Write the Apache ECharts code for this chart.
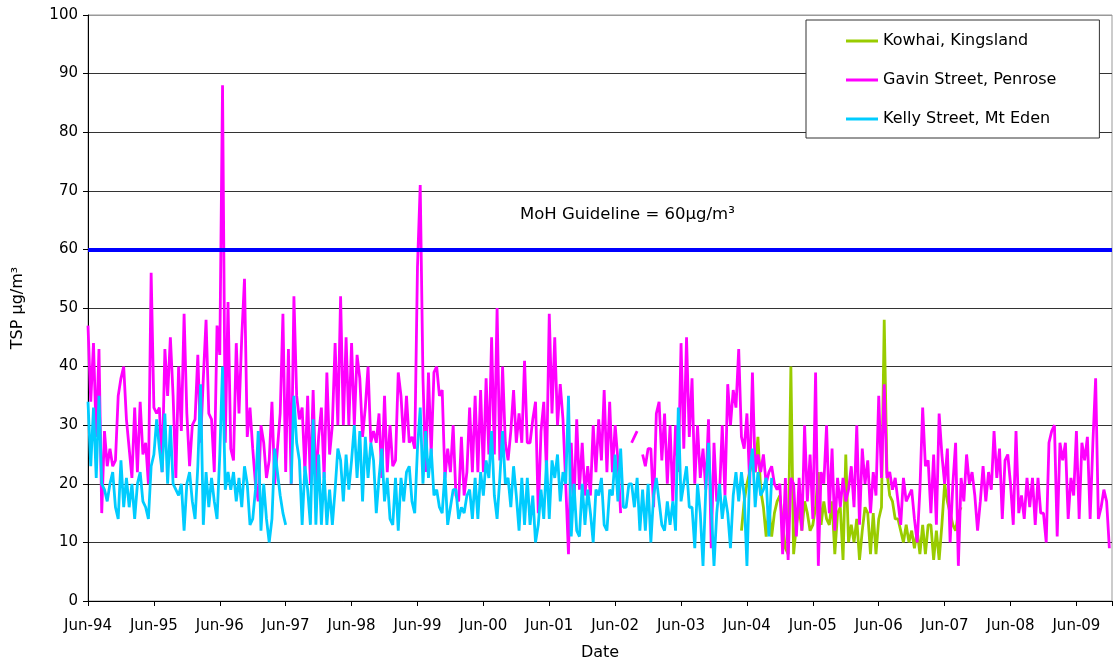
<!DOCTYPE html>
<html>
<head>
<meta charset="utf-8">
<title>TSP monitoring – Auckland sites</title>
<script src="https://cdn.jsdelivr.net/npm/echarts@6/dist/echarts.min.js"></script>
<style>
  html, body { margin: 0; padding: 0; background: #fff; }
  #chart { width: 1115px; height: 666px; }
</style>
</head>
<body>
<div id="chart"></div>
<script>
// Sampling: one TSP result every half month; x is measured in years from June 1994.
const SAMPLE_STEP_MONTHS = 0.5;
const AXIS_ORIGIN = { year: 1994, month: 6 };

const seriesNames = ['Kowhai, Kingsland', 'Gavin Street, Penrose', 'Kelly Street, Mt Eden'];
const seriesColors = ['#99cc00', '#ff00ff', '#00ccff'];

// Gavin Street, Penrose – from June 1994 (null = no sample)
const gavinStart = { year: 1994, month: 6 };
const gavinValues = [
  47, 34, 44, 28, 43, 15, 29, 23, 26, 23, 24, 35, 38, 40, 31, 26, 21, 33, 22, 34, 25, 27,
  20, 56, 33, 32, 33, 22, 43, 35, 45, 35, 21, 40, 29, 49, 32, 23, 30, 31, 42, 27, 38,
  48, 32, 31, 22, 47, 42, 88, 27, 51, 26, 24, 44, 32, 45, 55, 28, 33, 26, 20, 17, 30,
  27, 21, 24, 34, 20, 26, 32, 49, 22, 43, 20, 52, 35, 31, 33, 22, 35, 20, 36, 20, 28,
  33, 21, 39, 25, 30, 44, 30, 52, 30, 45, 30, 44, 30, 42, 38, 28, 33, 40, 27, 29, 27,
  32, 21, 35, 22, 30, 23, 24, 39, 35, 27, 35, 27, 28, 26, 57, 71, 38, 22, 39, 25, 39,
  40, 35, 36, 21, 26, 22, 30, 18, 17, 28, 18, 22, 33, 22, 35, 22, 36, 22, 38, 25, 45,
  25, 50, 24, 40, 27, 24, 29, 36, 27, 32, 27, 41, 27, 27, 31, 34, 15, 29, 34, 22, 49,
  32, 45, 30, 37, 31, 20, 8, 27, 16, 31, 19, 27, 18, 23, 18, 30, 22, 31, 24, 36, 22,
  34, 22, 30, 24, 15, null, null, null, 27, 28, 29, null, 25, 23, 26, 26, 16, 32, 34, 24, 32,
  20, 30, 17, 30, 22, 44, 26, 45, 28, 38, 20, 30, 21, 26, 19, 31, 9, 27, 17, 18, 30,
  18, 37, 30, 36, 33, 43, 28, 26, 32, 20, 39, 22, 25, 22, 25, 20, 22, 23, 20, 19, 20,
  8, 21, 7, 21, 20, 11, 21, 12, 30, 17, 25, 14, 39, 6, 22, 20, 30, 15, 26, 12, 21,
  16, 21, 17, 19, 23, 16, 30, 13, 26, 20, 24, 15, 22, 18, 35, 21, 37, 21, 22, 19, 21,
  17, 13, 21, 17, 18, 19, 14, 10, 19, 33, 23, 24, 15, 25, 13, 32, 25, 20, 26, 10, 20,
  27, 6, 21, 17, 25, 20, 22, 18, 12, 17, 23, 17, 22, 19, 29, 21, 26, 14, 24, 25, 20,
  13, 29, 15, 18, 14, 21, 16, 21, 13, 21, 15, 15, 10, 27, 29, 30, 11, 27,
  24, 27, 14, 21, 18, 29, 14, 27, 24, 28, 14, 27, 38, 14, 16, 19, 17, 9
];

// Kelly Street, Mt Eden – June 1994 to late 2004
const kellyStart = { year: 1994, month: 6 };
const kellyValues = [
  34, 23, 33, 21, 35, 20, 19, 17, 20, 22, 16, 14, 24, 16, 21, 16, 20, 14, 20, 22, 17, 16,
  14, 23, 25, 31, 26, 22, 32, 20, 30, 20, 19, 18, 20, 12, 20, 22, 17, 14, 23, 37, 13,
  22, 16, 21, 17, 14, 25, 40, 19, 22, 19, 22, 17, 21, 16, 23, 20, 13, 14, 19, 29, 12,
  20, 14, 10, 14, 26, 22, 18, 15, 13, null, 20, 35, 27, 24, 13, 23, 19, 13, 31, 13, 25,
  13, 22, 13, 19, 13, 19, 26, 24, 17, 25, 19, 24, 30, 21, 29, 17, 28, 21, 27, 24, 15,
  21, 26, 17, 21, 14, 13, 21, 12, 21, 17, 22, 23, 17, 15, 26, 33, 20, 29, 21, 26, 18,
  19, 16, 15, 22, 13, 16, 19, 19, 14, 16, 15, 18, 19, 14, 21, 14, 22, 18, 24, 21, 29,
  18, 14, 21, 29, 20, 21, 16, 23, 18, 12, 21, 13, 21, 13, 18, 10, 13, 19, 14, 24, 14,
  24, 21, 25, 17, 22, 20, 35, 11, 20, 12, 11, 20, 13, 19, 15, 10, 19, 18, 21, 13, 12,
  19, 18, 25, 17, 26, 16, 16, 20, 20, 16, 21, 12, 19, 12, 20, 10, 18, 21, 17, 13, 12,
  17, 13, 17, 12, 33, 17, 20, 23, 16, 16, 9, 20, 15, 6, 19, 27, 16, 6, 15, 20,
  14, 18, 15, 9, 18, 22, 17, 22, 18, 6, 22, 26, 16, 22, 18, 19, 21, 11, 21
];

// Kowhai, Kingsland – May 2004 to late 2007
const kowhaiStart = { year: 2004, month: 5 };
const kowhaiValues = [
  12, 17, 20, 22, 24, 22, 28, 19, 16, 11, 16, 11, 15, 17, 18,
  13, 9, 8, 40, 8, 13, 16, 12, 17, 15, 12, 13, 16, 22, 13, 17, 14, 13, 17, 8, 15,
  16, 7, 25, 10, 13, 10, 14, 7, 12, 16, 15, 8, 15, 8, 14, 16, 48, 22, 18, 17, 14,
  14, 12, 10, 13, 10, 12, 9, 12, 8, 13, 8, 13, 13, 7, 12, 7, 13, 20, 17, 15, 13, 12, 15, 16
];

// Ministry of Health guideline
const guidelineValue = 60;
const guidelineText = 'MoH Guideline = 60µg/m³';

// Tick labels along the date axis (one per June)
const dateTickLabels = ['Jun-94', 'Jun-95', 'Jun-96', 'Jun-97', 'Jun-98', 'Jun-99', 'Jun-00', 'Jun-01',
  'Jun-02', 'Jun-03', 'Jun-04', 'Jun-05', 'Jun-06', 'Jun-07', 'Jun-08', 'Jun-09'];

function toPoints(values, start) {
  const base = (start.year - AXIS_ORIGIN.year) * 12 + (start.month - AXIS_ORIGIN.month);
  return values.map((v, i) => [(base + i * SAMPLE_STEP_MONTHS) / 12, v === null ? '-' : v]);
}

const FONT = 'DejaVu Sans';
const chart = echarts.init(document.getElementById('chart'), null, { renderer: 'canvas' });

const lineSeries = (name, color, data, extra) => Object.assign({
  name,
  type: 'line',
  data,
  showSymbol: false,
  symbol: 'none',
  connectNulls: false,
  color,
  lineStyle: { color, width: 2.8 },
  emphasis: { disabled: true },
  animation: false
}, extra || {});

const splitColors = Array.from({ length: 11 }, (_, i) => (i === 10 ? '#999' : '#333'));

chart.setOption({
  backgroundColor: '#fff',
  animation: false,
  grid: {
    left: 88, right: 3, top: 15, bottom: 65,
    show: true, borderColor: '#999', borderWidth: 1, backgroundColor: '#fff'
  },
  legend: {
    data: seriesNames,
    orient: 'vertical',
    left: 806, top: 20,
    icon: 'rect',
    itemWidth: 32, itemHeight: 3, itemGap: 23,
    padding: [13, 43, 11, 40],
    backgroundColor: '#fff',
    borderColor: '#333', borderWidth: 1,
    textStyle: { fontFamily: FONT, fontSize: 16, color: '#000' },
    selectedMode: false
  },
  xAxis: {
    type: 'value',
    min: 0, max: 15.54, interval: 1,
    name: 'Date',
    nameLocation: 'middle',
    nameGap: 44,
    nameTextStyle: { fontFamily: FONT, fontSize: 16, color: '#000' },
    axisLine: { show: true, lineStyle: { color: '#000', width: 1 } },
    axisTick: { show: true, length: 5, lineStyle: { color: '#000' } },
    axisLabel: {
      margin: 18,
      fontFamily: FONT, fontSize: 15, color: '#000',
      formatter: v => (Number.isInteger(v) && dateTickLabels[v]) ? dateTickLabels[v] : ''
    },
    splitLine: { show: false }
  },
  yAxis: {
    type: 'value',
    min: 0, max: 100, interval: 10,
    name: 'TSP µg/m³',
    nameLocation: 'middle',
    nameGap: 62,
    nameRotate: 90,
    nameTextStyle: { fontFamily: FONT, fontSize: 16, color: '#000' },
    axisLine: { show: true, lineStyle: { color: '#000', width: 1 } },
    axisTick: { show: true, length: 5, lineStyle: { color: '#000' } },
    axisLabel: { margin: 10, fontFamily: FONT, fontSize: 15, color: '#000' },
    splitLine: { show: true, lineStyle: { color: splitColors, width: 1 } }
  },
  series: [
    lineSeries(seriesNames[0], seriesColors[0], toPoints(kowhaiValues, kowhaiStart)),
    lineSeries(seriesNames[1], seriesColors[1], toPoints(gavinValues, gavinStart)),
    lineSeries(seriesNames[2], seriesColors[2], toPoints(kellyValues, kellyStart), {
      markLine: {
        silent: true,
        symbol: 'none',
        animation: false,
        label: { show: false },
        lineStyle: { color: '#0000ff', width: 4, type: 'solid' },
        emphasis: { disabled: true },
        data: [{ yAxis: guidelineValue }]
      }
    })
  ],
  graphic: [{
    type: 'text',
    left: 520, top: 206,
    style: { text: guidelineText, font: '16.5px "DejaVu Sans"', fill: '#000' }
  }]
});
</script>
</body>
</html>
